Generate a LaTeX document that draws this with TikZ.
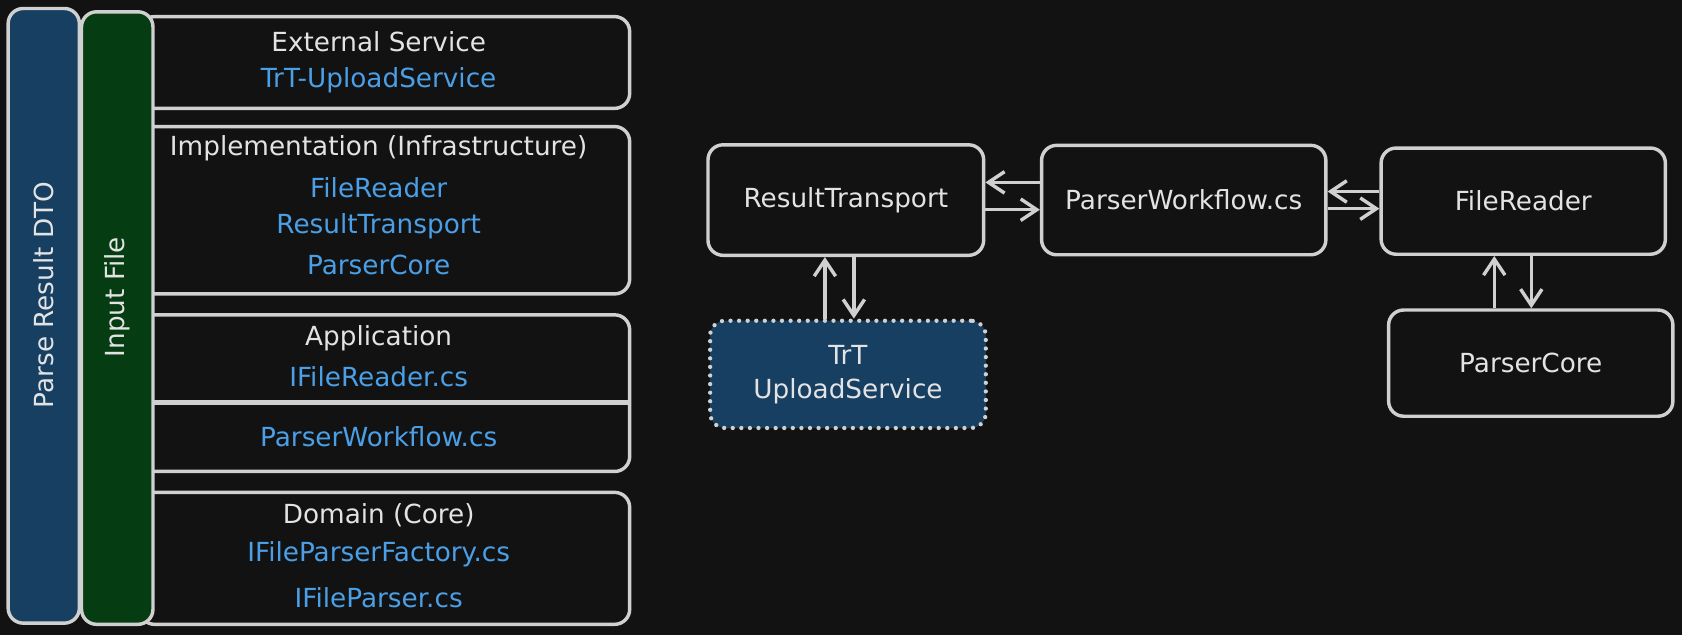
\documentclass[tikz,border=0pt]{standalone}
\usepackage{fontspec}
\setmainfont{DejaVu Sans}
\usetikzlibrary{arrows.meta,calc}
\definecolor{bg}{HTML}{121212}
\definecolor{strk}{HTML}{D0D0D0}
\definecolor{txt}{HTML}{E3E3E3}
\definecolor{bluetxt}{HTML}{4A9FE6}
\definecolor{bluefill}{HTML}{163F62}
\definecolor{greenfill}{HTML}{053C12}
\begin{document}
\begin{tikzpicture}[x=1pt,y=-1pt,
  font=\fontsize{24.5}{29}\selectfont,
  box/.style={draw=strk, line width=3.2pt, rounded corners=14pt, fill=bg, inner sep=0pt},
  bar/.style={draw=strk, line width=3.2pt, rounded corners=14pt, inner sep=0pt, rotate=90},
  lbl/.style={text=txt, inner sep=0pt},
  blu/.style={text=bluetxt, inner sep=0pt},
  arr/.style={draw=strk, line width=3.2pt, -{Straight Barb[length=15pt,width=20pt]}},
  dotbox/.style={draw=strk, line width=4pt, dash pattern=on 0pt off 8pt, line cap=round, rounded corners=14pt, fill=bluefill, inner sep=0pt}
]
\useasboundingbox[fill=bg] (0,0) rectangle (1568,592);

% ---- left layer boxes ----
\node[box, minimum width=457pt, minimum height=85.5pt] (ext) at (358.5,58.25) {};
\node[box, minimum width=457pt, minimum height=156pt] (impl) at (358.5,196) {};
\node[box, minimum width=457pt, minimum height=146pt] (app) at (358.5,366.5) {};
\coordinate (divl) at (130,375);
\coordinate (divr) at (587,375);
\draw[draw=strk, line width=4.6pt] (divl) -- (divr);
\node[box, minimum width=457pt, minimum height=123pt] (dom) at (358.5,520.5) {};

% ---- vertical bars ----
\node[bar, fill=bluefill, minimum width=573pt, minimum height=66.4pt] (dto) at (40.8,294.4) {};
\node[bar, fill=greenfill, minimum width=571pt, minimum height=66.6pt] (inp) at (109.3,296.5) {};
\node[lbl, rotate=90] (dtot) at (41,275) {Parse Result DTO};
\node[lbl, rotate=90] (inpt) at (109,277) {Input File};

% ---- left texts ----
\node[lbl] (t1) at (353,39) {External Service};
\node[blu] (t2) at (353,75) {TrT-UploadService};
\node[lbl] (t3) at (353,138) {Implementation (Infrastructure)};
\node[blu] (t4) at (353,175) {FileReader};
\node[blu] (t5) at (353,211) {ResultTransport};
\node[blu] (t6) at (353,247) {ParserCore};
\node[lbl] (t7) at (353,315) {Application};
\node[blu] (t8) at (353,351) {IFileReader.cs};
\node[blu] (t9) at (353,407) {ParserWorkflow.cs};
\node[lbl] (t10) at (353,480) {Domain (Core)};
\node[blu] (t11) at (353,517) {IFileParserFactory.cs};
\node[blu] (t12) at (353,557) {IFileParser.cs};

% ---- right diagram ----
\node[box, minimum width=257pt, minimum height=103pt, text=txt] (rt) at (788.5,186.5) {ResultTransport};
\node[box, minimum width=265pt, minimum height=102pt, text=txt] (pw) at (1103.5,186.5) {ParserWorkflow.cs};
\node[box, minimum width=265pt, minimum height=99pt, text=txt] (fr) at (1420,187.5) {FileReader};
\node[box, minimum width=265pt, minimum height=99pt, text=txt] (pc) at (1427,338.5) {ParserCore};
\node[dotbox, minimum width=257pt, minimum height=100pt, text=txt, align=center, font=\fontsize{24.5}{32}\selectfont] (tu) at (790.5,349) {TrT\\UploadService};

% horizontal arrows
\draw[arr] ($(pw.west)+(0,-16.5)$) -- ($(rt.east)+(0,-16.5)$);
\draw[arr] ($(rt.east)+(0,9)$) -- ($(pw.west)+(0,9)$);
\draw[arr] ($(fr.west)+(0,-9)$) -- ($(pw.east)+(0,-8)$);
\draw[arr] ($(pw.east)+(0,8)$) -- ($(fr.west)+(0,7)$);
% vertical arrows
\draw[arr] ($(tu.north)+(-21.5,0)$) -- ($(rt.south)+(-19.5,0)$);
\draw[arr] ($(rt.south)+(7.5,0)$) -- ($(tu.north)+(5.5,0)$);
\draw[arr] ($(pc.north)+(-34,0)$) -- ($(fr.south)+(-27,0)$);
\draw[arr] ($(fr.south)+(7.5,0)$) -- ($(pc.north)+(0.5,0)$);
\end{tikzpicture}
\end{document}
